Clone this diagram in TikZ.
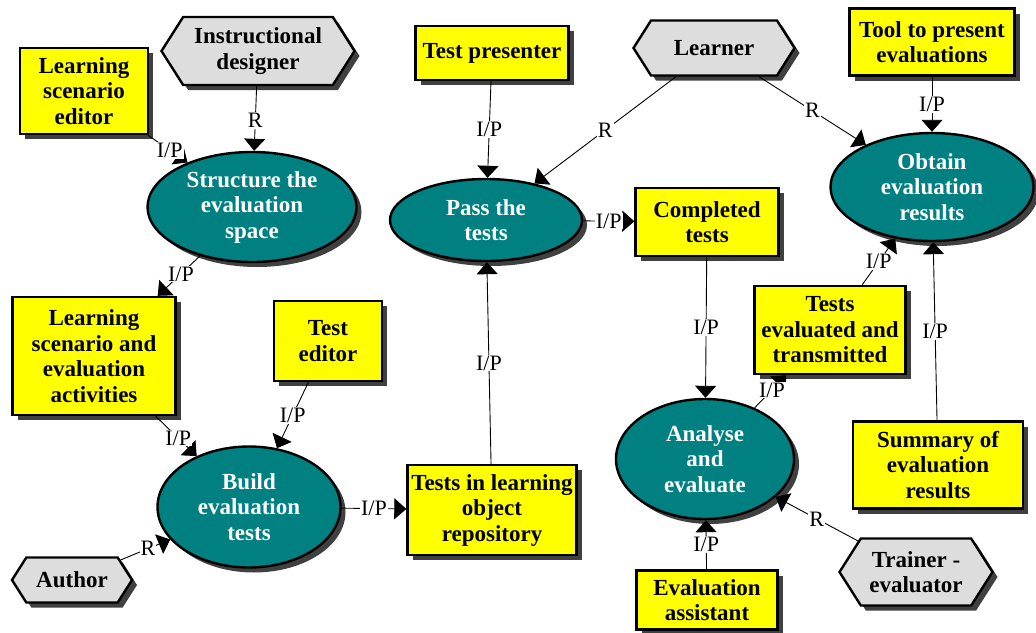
\documentclass[tikz,border=0pt]{standalone}
\usepackage{fontspec}
\setmainfont{Liberation Serif}
\usetikzlibrary{shapes.geometric,shapes.symbols,shadows,arrows.meta}
\definecolor{procfill}{RGB}{0,128,128}
\definecolor{knowfill}{RGB}{255,255,0}
\definecolor{actorfill}{RGB}{221,221,221}
\definecolor{shadowgray}{RGB}{64,64,64}

\tikzset{
  base/.style={draw=black, line width=2.4pt, align=center,
    font=\bfseries\fontsize{23}{25.5}\selectfont, inner sep=0pt,
    drop shadow={shadow xshift=5pt, shadow yshift=-5pt, opacity=1, fill=shadowgray}},
  knowledge/.style={base, rectangle, fill=knowfill},
  process/.style={base, ellipse, fill=procfill, text=white},
  actor/.style={base, signal, signal to=east and west, signal pointer angle=115, fill=actorfill},
  link/.style={line width=0.9pt, -{Triangle[width=21pt,length=12pt]}},
  lbl/.style={fill=white, inner sep=1pt, font=\fontsize{22}{24}\selectfont},
}

\begin{document}
\begin{tikzpicture}[x=1pt,y=-1pt]
\useasboundingbox (0,0) rectangle (1036,632);

% actors
\node[actor, minimum width=193pt, minimum height=68pt] (designer) at (258,51) {Instructional\\designer};
\node[actor, minimum width=161pt, minimum height=55pt] (learner) at (714,48) {Learner};
\node[actor, minimum width=120pt, minimum height=45pt] (author) at (72,580) {Author};
\node[actor, minimum width=153pt, minimum height=67pt] (trainer) at (916,572) {Trainer -\\evaluator};

% knowledge / resources
\node[knowledge, minimum width=128pt, minimum height=86pt] (lse) at (84,91) {Learning\\scenario\\editor};
\node[knowledge, minimum width=153pt, minimum height=54pt] (presenter) at (492,53) {Test presenter};
\node[knowledge, minimum width=165pt, minimum height=67pt] (tool) at (932,42) {Tool to present\\evaluations};
\node[knowledge, minimum width=143pt, minimum height=68pt] (completed) at (707,222) {Completed\\tests};
\node[knowledge, minimum width=151pt, minimum height=88pt] (evaluated) at (830,330) {Tests\\evaluated and\\transmitted};
\node[knowledge, minimum width=163pt, minimum height=118pt] (activities) at (94,356) {Learning\\scenario and\\evaluation\\activities};
\node[knowledge, minimum width=108pt, minimum height=80pt] (editor) at (328,341) {Test\\editor};
\node[knowledge, minimum width=169pt, minimum height=90pt] (repository) at (492,510) {Tests in learning\\object\\repository};
\node[knowledge, minimum width=170pt, minimum height=87pt] (summary) at (938,465) {Summary of\\evaluation\\results};
\node[knowledge, minimum width=141pt, minimum height=59pt] (assistant) at (707,600) {Evaluation\\assistant};

% processes
\node[process, minimum width=209pt, minimum height=110pt] (structure) at (252,207) {Structure the\\evaluation\\space};
\node[process, minimum width=192pt, minimum height=82pt] (pass) at (486,220) {Pass the\\tests};
\node[process, minimum width=203pt, minimum height=108pt] (obtain) at (932,187) {Obtain\\evaluation\\results};
\node[process, minimum width=183pt, minimum height=121pt] (build) at (249,507) {Build\\evaluation\\tests};
\node[process, minimum width=178pt, minimum height=120pt] (analyse) at (705,459) {Analyse\\and\\evaluate};

% links
\draw[link] (designer) -- node[lbl,pos=.53]{R} (structure);
\draw[link] (lse) -- node[lbl,pos=.55]{I/P} (structure);
\draw[link] (structure) -- node[lbl,pos=.45]{I/P} (activities);
\draw[link] (activities) -- node[lbl,pos=.55]{I/P} (build);
\draw[link] (editor) -- node[lbl]{I/P} (build);
\draw[link] (author) -- node[lbl,pos=.55]{R} (build);
\draw[link] (build) -- node[lbl]{I/P} (repository);
\draw[link] (repository) -- node[lbl]{I/P} (pass);
\draw[link] (presenter) -- node[lbl]{I/P} (pass);
\draw[link] (learner) -- node[lbl]{R} (pass);
\draw[link] (pass) -- node[lbl]{I/P} (completed);
\draw[link] (learner) -- node[lbl]{R} (obtain);
\draw[link] (tool) -- node[lbl]{I/P} (obtain);
\draw[link] (completed) -- node[lbl]{I/P} (analyse);
\draw[link] (analyse) -- node[lbl,pos=.55]{I/P} (evaluated);
\draw[link] (evaluated) -- node[lbl]{I/P} (obtain);
\draw[link] (summary) -- node[lbl]{I/P} (obtain);
\draw[link] (assistant) -- node[lbl]{I/P} (analyse);
\draw[link] (trainer) -- node[lbl]{R} (analyse);
\end{tikzpicture}
\end{document}
